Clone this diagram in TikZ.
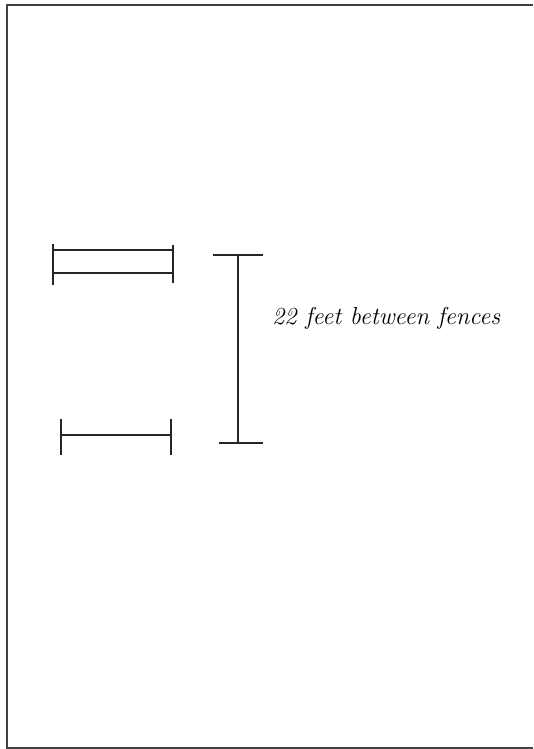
\documentclass[tikz,border=0pt]{standalone}
\usepackage{fontspec}
\begin{document}
\begin{tikzpicture}[x=1pt,y=-1pt,
  ln/.style={line width=1.5pt, draw=black!85},
  frame/.style={line width=1.5pt, draw=black!75}]
\useasboundingbox (0,0) rectangle (533,749);
% frame (top, left, bottom)
\coordinate (tr) at (533,5);
\coordinate (tl) at (7,5);
\coordinate (bl) at (7,748);
\coordinate (br) at (533,748);
\draw[frame] (tr) -- (tl) -- (bl) -- (br);
% top fence
\coordinate (a1) at (53,244); \coordinate (a2) at (53,285);
\coordinate (b1) at (173,245); \coordinate (b2) at (173,283);
\draw[ln] (a1) -- (a2);
\draw[ln] (b1) -- (b2);
\draw[ln] (53,250) -- (173,250);
\draw[ln] (53,273) -- (173,273);
% bottom fence
\coordinate (c1) at (61,419); \coordinate (c2) at (61,455);
\coordinate (d1) at (171,419); \coordinate (d2) at (171,455);
\draw[ln] (c1) -- (c2);
\draw[ln] (d1) -- (d2);
\draw[ln] (61,435) -- (171,435);
% dimension
\coordinate (t) at (238,255); \coordinate (b) at (238,443);
\draw[ln] (t) -- (b);
\draw[ln] (213,255) -- (263,255);
\draw[ln] (219,443) -- (263,443);
\node[anchor=west, inner sep=0pt, font=\itshape\fontsize{24.5}{28}\selectfont] (lbl) at (272,318) {22 feet between fences};
\end{tikzpicture}
\end{document}
